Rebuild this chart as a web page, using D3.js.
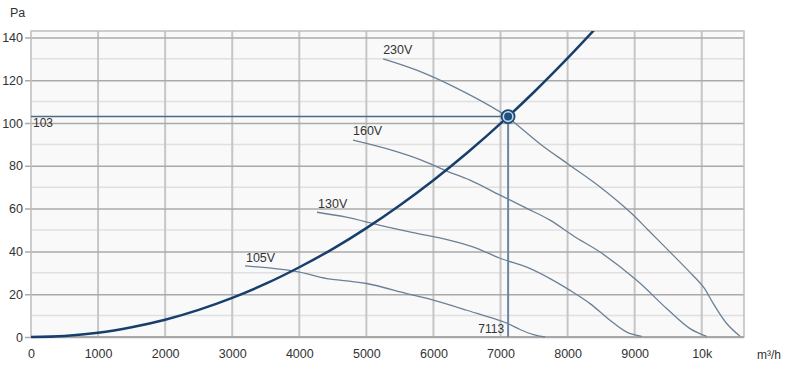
<!DOCTYPE html>
<html><head><meta charset="utf-8">
<script src="https://cdn.jsdelivr.net/npm/d3@7"></script>
<style>body{margin:0;background:#fff}svg{display:block;font-family:"Liberation Sans",Arial,sans-serif}</style>
</head><body>
<script>
// Data (airflow m³/h, pressure Pa)
const xTicks = [0,1000,2000,3000,4000,5000,6000,7000,8000,9000,10000];
const xTickLabels = ["0","1000","2000","3000","4000","5000","6000","7000","8000","9000","10k"];
const yTicks = [0,20,40,60,80,100,120,140];
const curve230 = [[5250,130],[5750,124.7],[6300,117],[6993,105.2],[7113,102.6],[7600,90],[8000,81],[8484,70.1],[8931,58.4],[9200,50],[9502,40.5],[9800,31],[10024,23.4],[10173,15.6],[10372,6.3],[10571,0.3]];
const curve160 = [[4801,92],[5300,88],[5800,82.9],[6200,77.5],[6545,73.3],[6993,66.3],[7400,60],[7738,54.6],[8100,47],[8484,39.7],[9030,26.5],[9477,13.3],[9825,3.9],[10074,0.3]];
const curve130 = [[4264,58.3],[4700,56],[5204,52.2],[5700,48.8],[6247,45.2],[6600,42],[6993,36.8],[7400,32.5],[7738,27.3],[8036,21.8],[8335,15.6],[8633,7.8],[8882,2.3],[9105,0.3]];
const curve105 = [[3191,33.2],[3911,30.9],[4408,27.3],[4706,26.2],[5005,25],[5601,20.3],[5998,17.2],[6496,12.5],[7093,6.5],[7291,3.5],[7490,1.1],[7664,0]];
const systemCurve = [[0,0],[500,0.5],[1000,2],[1500,4.6],[2000,8.1],[2500,12.7],[3000,18.3],[3500,24.9],[4000,32.6],[4500,41.2],[5000,50.9],[5500,61.6],[6000,73.3],[6500,86],[7113,103],[7500,114.5],[8000,130.3],[8400,143.6]];
const opPoint = {q:7113, p:103};
const curveLabels = [{t:"230V",q:5250,p:132.2},{t:"160V",q:4801,p:94.4},{t:"130V",q:4280,p:60.4},{t:"105V",q:3205,p:35}];

const W=787,H=374;
const svg=d3.select("body").append("svg").attr("width",W).attr("height",H);
const x=d3.scaleLinear().domain([0,10630]).range([31,744]);
const y=d3.scaleLinear().domain([0,143]).range([337,31]);

// plot background
svg.append("rect").attr("x",x(0)).attr("y",y(143)).attr("width",x(10630)-x(0)).attr("height",y(0)-y(143)).attr("fill","#f9f9f9");
// minor horizontal grid
const minor=d3.range(10,143,20);
svg.append("g").selectAll("line").data(minor).join("line")
 .attr("x1",x(0)).attr("x2",x(10630)).attr("y1",d=>y(d)).attr("y2",d=>y(d))
 .attr("stroke","#e0e0e0").attr("stroke-width",1.5);
// vertical grid
svg.append("g").selectAll("line").data(xTicks.slice(1)).join("line")
 .attr("x1",d=>x(d)).attr("x2",d=>x(d)).attr("y1",y(143)).attr("y2",y(0))
 .attr("stroke","#c6c6c6").attr("stroke-width",2);
// major horizontal grid (y axis with ticks)
const yAxis=d3.axisLeft(y).tickValues(yTicks).tickSize(-(x(10630)-x(0))).tickSizeOuter(0).tickPadding(4);
const gy=svg.append("g").attr("transform",`translate(${x(0)},0)`).call(yAxis);
gy.select(".domain").remove();
gy.selectAll(".tick line").attr("stroke","#aaaaaa").attr("stroke-width",1.5).attr("x1",-6);
gy.selectAll(".tick text").attr("x",-8).attr("fill","#333").attr("font-size",12.5);
// border
svg.append("rect").attr("x",x(0)).attr("y",y(143)).attr("width",x(10630)-x(0)).attr("height",y(0)-y(143))
 .attr("fill","none").attr("stroke","#bdbdbd").attr("stroke-width",1.5);
svg.append("line").attr("x1",x(0)).attr("x2",x(10630)).attr("y1",y(0)).attr("y2",y(0)).attr("stroke","#a8a8a8").attr("stroke-width",2);
// x axis labels
const xAxis=d3.axisBottom(x).tickValues(xTicks).tickFormat((d,i)=>xTickLabels[i]).tickSize(0).tickPadding(12);
const gx=svg.append("g").attr("transform",`translate(0,${y(0)})`).call(xAxis);
gx.select(".domain").remove();
gx.selectAll(".tick text").attr("fill","#333").attr("font-size",12.5);

svg.append("text").attr("x",10).attr("y",17).attr("fill","#333").attr("font-size",12.5).text("Pa");
svg.append("text").attr("x",757).attr("y",359).attr("fill","#333").attr("font-size",12).text("m³/h");

// fan curves
const line=d3.line().x(d=>x(d[0])).y(d=>y(d[1])).curve(d3.curveCatmullRom.alpha(0.5));
[curve230,curve160,curve130,curve105].forEach(c=>{
 svg.append("path").attr("d",line(c)).attr("fill","none").attr("stroke","#6b8096").attr("stroke-width",1.3);
});
svg.append("g").selectAll("text").data(curveLabels).join("text")
 .attr("x",d=>x(d.q)).attr("y",d=>y(d.p)).attr("fill","#333").attr("font-size",12.5).text(d=>d.t);

// operating lines
svg.append("line").attr("x1",x(0)).attr("x2",x(opPoint.q)).attr("y1",y(opPoint.p)).attr("y2",y(opPoint.p))
 .attr("stroke","#4d6a88").attr("stroke-width",1.5);
svg.append("line").attr("x1",x(opPoint.q)).attr("x2",x(opPoint.q)).attr("y1",y(opPoint.p)).attr("y2",y(0))
 .attr("stroke","#6b86a3").attr("stroke-width",2);
svg.append("text").attr("x",x(0)+2).attr("y",y(opPoint.p)+10).attr("fill","#333").attr("font-size",12).text("103");
svg.append("text").attr("x",x(opPoint.q)-4).attr("y",y(0)-4).attr("text-anchor","end").attr("fill","#333").attr("font-size",12).text("7113");

// system curve (clipped to plot)
svg.append("clipPath").attr("id","clip").append("rect").attr("x",x(0)).attr("y",y(143)).attr("width",x(10630)-x(0)).attr("height",y(0)-y(143)+2);
svg.append("path").attr("clip-path","url(#clip)").attr("d",d3.line().x(d=>x(d[0])).y(d=>y(d[1])).curve(d3.curveMonotoneX)(systemCurve))
 .attr("fill","none").attr("stroke","#183f6b").attr("stroke-width",2.5);

// operating point marker
svg.append("circle").attr("cx",x(opPoint.q)).attr("cy",y(opPoint.p)).attr("r",6.5).attr("fill","#c9d6e3").attr("stroke","#1b4a7a").attr("stroke-width",1.8);
svg.append("circle").attr("cx",x(opPoint.q)).attr("cy",y(opPoint.p)).attr("r",4).attr("fill","#1d4f82");
</script>
</body></html>
